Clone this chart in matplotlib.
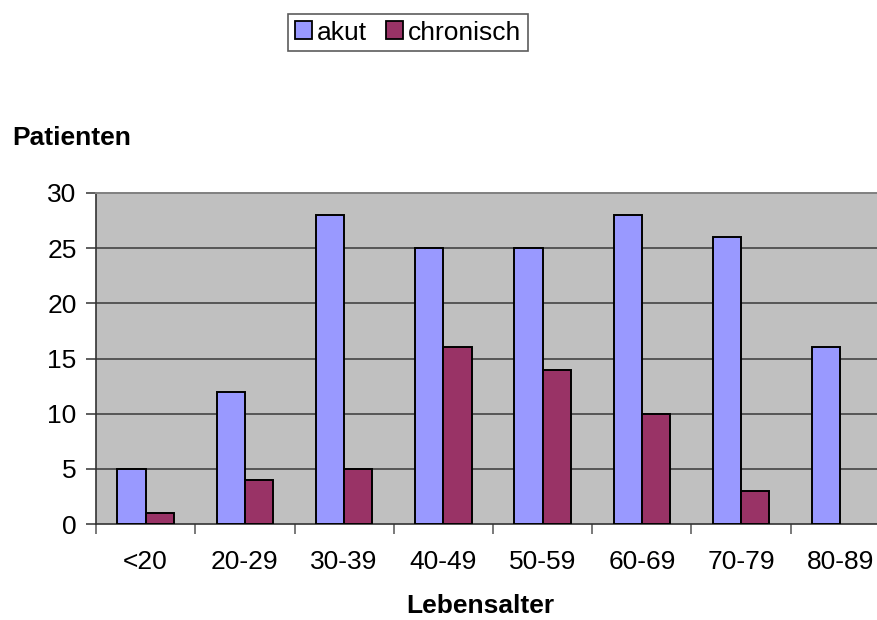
import matplotlib
matplotlib.use("Agg")
import matplotlib.pyplot as plt
import numpy as np
from matplotlib.patches import Patch

categories = ["<20", "20-29", "30-39", "40-49", "50-59", "60-69", "70-79", "80-89"]
akut = [5, 12, 28, 25, 25, 28, 26, 16]
chronisch = [1, 4, 5, 16, 14, 10, 3, 0]
yticks = [0, 5, 10, 15, 20, 25, 30]

plt.rcParams['font.family'] = ['Liberation Sans', 'DejaVu Sans']
FS = 19

W, H = 877, 620
fig = plt.figure(figsize=(W / 100, H / 100), dpi=100)
left, right, top, bottom = 96, 890, 193, 524
ax = fig.add_axes([left / W, 1 - bottom / H, (right - left) / W, (bottom - top) / H])
ax.set_facecolor("#C0C0C0")

x = np.arange(len(categories))
bw = 1 / 3.5
ax.bar(x - bw / 2, akut, width=bw, color="#9999FF", edgecolor="black", linewidth=1.4, zorder=3)
ch_vals = [v if v > 0 else np.nan for v in chronisch]
ax.bar(x + bw / 2, ch_vals, width=bw, color="#993366", edgecolor="black", linewidth=1.4, zorder=3)

ax.set_xlim(-0.5, len(categories) - 0.5)
ax.set_ylim(0, 30)
ax.set_yticks(yticks)
ax.set_yticklabels([str(v) for v in yticks], fontsize=FS)
for v in yticks[1:-1]:
    ax.axhline(v, color="#444444", linewidth=1.2, zorder=1)

ax.set_xticks(x)
ax.set_xticklabels(categories, fontsize=FS)
ax.tick_params(axis='x', which='major', length=0, pad=19)
ax.set_xticks(np.arange(-0.5, len(categories) - 0.5, 1), minor=True)
ax.tick_params(axis='x', which='minor', length=7, width=1.1, color="#555555", direction='out')
ax.tick_params(axis='y', length=7, width=1.1, color="#333333", direction='out', pad=7)

for s in ['left', 'bottom']:
    ax.spines[s].set_color("#333333")
    ax.spines[s].set_linewidth(1.2)
ax.spines['top'].set_color("#808080")
ax.spines['top'].set_linewidth(1.4)
ax.spines['right'].set_visible(False)

fig.text(12 / W, 1 - 138 / H, "Patienten", fontsize=FS, fontweight='bold', va='center', ha='left')
fig.text(480 / W, 1 - 606 / H, "Lebensalter", fontsize=FS, fontweight='bold', va='center', ha='center')

handles = [Patch(facecolor="#9999FF", edgecolor="black", linewidth=1.3),
           Patch(facecolor="#993366", edgecolor="black", linewidth=1.3)]
leg = fig.legend(handles, ["akut", "chronisch"], loc='center', bbox_to_anchor=(408 / W, 1 - 32.5 / H),
                 ncol=2, fontsize=FS, frameon=True, fancybox=False, handlelength=0.65, handleheight=0.65,
                 handletextpad=0.2, columnspacing=0.7, borderpad=0.25, borderaxespad=0)
leg.get_frame().set_edgecolor("#333333")
leg.get_frame().set_linewidth(1.2)

fig.savefig("out.png", dpi=100)
